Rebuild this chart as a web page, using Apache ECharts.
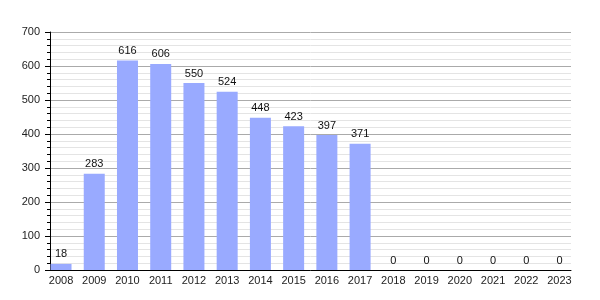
<!DOCTYPE html>
<html><head><meta charset="utf-8">
<script src="https://cdn.jsdelivr.net/npm/echarts@6/dist/echarts.min.js"></script>
<style>html,body{margin:0;padding:0;background:#fff}#c{width:600px;height:300px}</style>
</head><body><div id="c"></div>
<script>
const categories = ['2008','2009','2010','2011','2012','2013','2014','2015','2016','2017','2018','2019','2020','2021','2022','2023'];
const values = [18,283,616,606,550,524,448,423,397,371,0,0,0,0,0,0];
const yTicks = [0,100,200,300,400,500,600,700];

const yMin = yTicks[0], yMax = yTicks[yTicks.length-1];
const chart = echarts.init(document.getElementById('c'), null, {renderer:'canvas'});
chart.setOption({
  animation: false,
  backgroundColor: '#fff',
  textStyle: {fontFamily: 'Liberation Sans, Arial, sans-serif'},
  grid: [
    {left: 50, right: 29, top: 32, bottom: 30, containLabel: false},
    {left: 44.4, right: 23.9, top: 32, bottom: 30, containLabel: false}
  ],
  xAxis: [
    {
      gridIndex: 0, type: 'category', data: categories,
      axisLine: {show: true, lineStyle: {color: '#000', width: 1}},
      axisTick: {show: false}, axisLabel: {show: false}, splitLine: {show: false}
    },
    {
      gridIndex: 1, type: 'category', data: categories,
      axisLine: {show: false}, axisTick: {show: false},
      axisLabel: {color: '#222', fontSize: 11, margin: 5, interval: 0}
    }
  ],
  yAxis: [
    {
      gridIndex: 0, type: 'value',
      min: yMin, max: yMax, interval: 100,
      axisLine: {show: true, lineStyle: {color: '#000', width: 1}},
      axisTick: {show: true, length: 5, lineStyle: {color: '#000'}},
      minorTick: {show: true, splitNumber: 5, length: 3, lineStyle: {color: '#000'}},
      axisLabel: {color: '#222', fontSize: 11, margin: 10},
      splitLine: {show: true, lineStyle: {color: '#aaa', width: 1}},
      minorSplitLine: {show: true, lineStyle: {color: '#e4e4e4', width: 1}}
    },
    {
      gridIndex: 1, type: 'value', min: yMin, max: yMax, interval: 100,
      show: false, splitLine: {show: false}
    }
  ],
  series: [{
    type: 'bar',
    xAxisIndex: 1, yAxisIndex: 1,
    data: values,
    barWidth: 21,
    itemStyle: {color: '#99aaff'},
    label: {show: true, position: 'top', distance: 4, color: '#111', fontSize: 11}
  }]
});
</script></body></html>
